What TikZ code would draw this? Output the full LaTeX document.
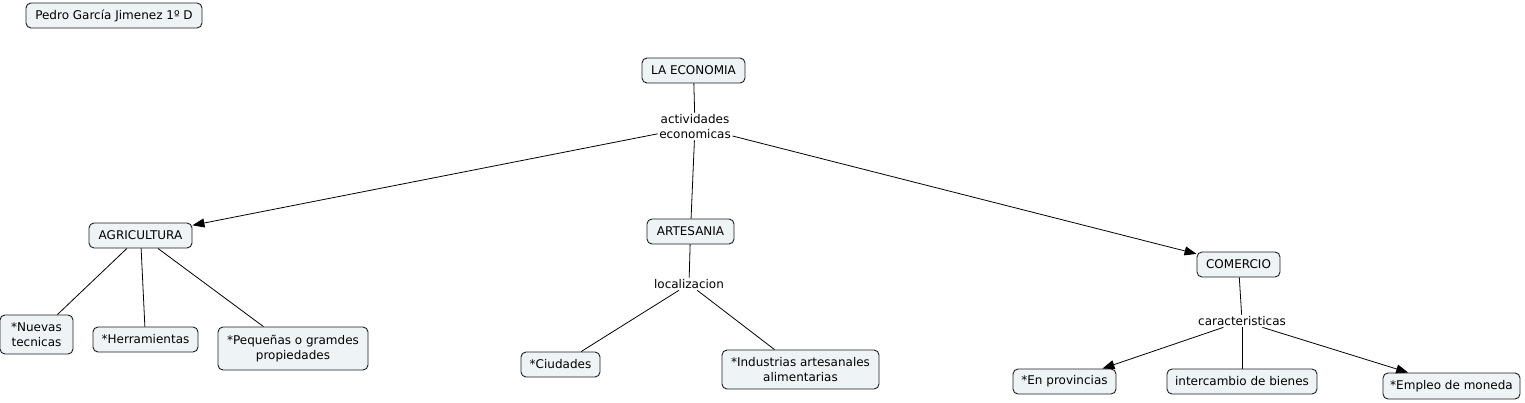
\documentclass[tikz,border=0pt]{standalone}
\usepackage{fontspec}
\setmainfont{DejaVu Sans}
\usetikzlibrary{arrows.meta}
\definecolor{boxfill}{RGB}{238,243,245}
\definecolor{boxline}{RGB}{30,30,30}
\tikzset{
  concept/.style={draw=boxline, fill=boxfill, rounded corners=5pt, line width=0.9pt,
    font=\fontsize{12}{15}\selectfont, align=center, inner xsep=3pt, inner ysep=4pt, minimum height=25pt},
  linklabel/.style={font=\fontsize{12}{15}\selectfont, align=center, inner sep=1.5pt, fill=white},
  conn/.style={draw=black, line width=0.8pt},
  arr/.style={conn, -{Triangle[length=12pt,width=9pt]}}
}
\begin{document}
\begin{tikzpicture}[x=1pt,y=-1pt]
\useasboundingbox (0,0) rectangle (1525,402);
\node[concept, minimum width=176pt] (pedro) at (114,15.5) {Pedro García Jimenez 1º D};
\node[concept, minimum width=103pt] (eco) at (693.5,70.5) {LA ECONOMIA};
\node[linklabel] (act) at (695,126.5) {actividades\\economicas};
\node[concept, minimum width=103pt] (agr) at (140.5,235.5) {AGRICULTURA};
\node[concept, minimum width=87pt] (art) at (690.5,231.5) {ARTESANIA};
\node[concept, minimum width=83pt] (com) at (1238.5,264.5) {COMERCIO};
\node[concept, minimum width=73pt, minimum height=39pt] (nue) at (36.5,334.5) {*Nuevas\\tecnicas};
\node[concept, minimum width=105pt] (her) at (145.5,339.5) {*Herramientas};
\node[concept, minimum width=150pt, minimum height=43pt] (peq) at (293,348.5) {*Pequeñas o gramdes\\propiedades};
\node[linklabel] (loc) at (689,284) {localizacion};
\node[concept, minimum width=79pt] (ciu) at (560.5,364.5) {*Ciudades};
\node[concept, minimum width=157pt, minimum height=39pt] (ind) at (800.5,369.5) {*Industrias artesanales\\alimentarias};
\node[linklabel] (car) at (1242,321) {caracteristicas};
\node[concept, minimum width=103pt] (pro) at (1064.5,381.5) {*En provincias};
\node[concept, minimum width=150pt] (int) at (1242,381.5) {intercambio de bienes};
\node[concept, minimum width=137pt, minimum height=26pt] (emp) at (1451.5,386) {*Empleo de moneda};

\draw[conn] (eco) -- (act);
\draw[arr] (act) -- (agr);
\draw[conn] (act) -- (art);
\draw[arr] (act) -- (com);
\draw[conn] (agr) -- (nue);
\draw[conn] (agr) -- (her);
\draw[conn] (agr) -- (peq);
\draw[conn] (art) -- (loc);
\draw[conn] (loc) -- (ciu);
\draw[conn] (loc) -- (ind);
\draw[conn] (com) -- (car);
\draw[arr] (car) -- (pro);
\draw[conn] (car) -- (int);
\draw[arr] (car) -- (emp);
\end{tikzpicture}
\end{document}
